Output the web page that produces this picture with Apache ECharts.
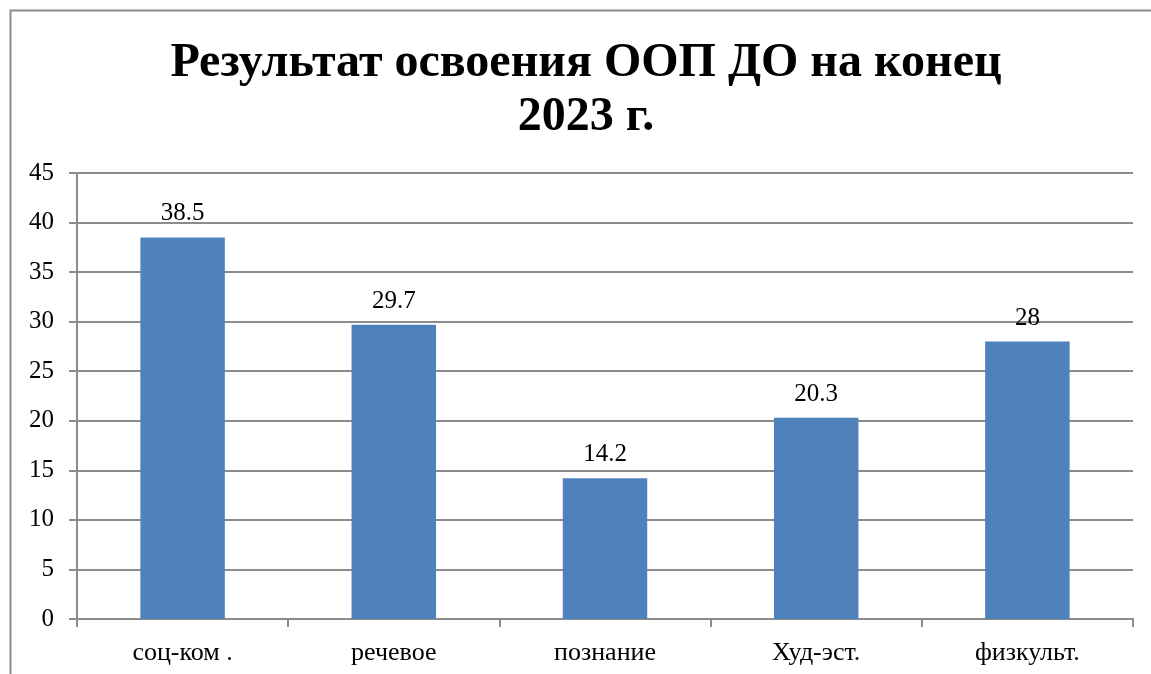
<!DOCTYPE html>
<html>
<head>
<meta charset="utf-8">
<script src="https://cdn.jsdelivr.net/npm/echarts@6/dist/echarts.min.js"></script>
<style>
  html, body { margin: 0; padding: 0; background: #fff; }
  #chart { width: 1151px; height: 674px; }
</style>
</head>
<body>
<div id="chart"></div>
<script>
var categories = ['соц-ком .', 'речевое', 'познание', 'Худ-эст.', 'физкульт.'];
var values = [38.5, 29.7, 14.2, 20.3, 28];
var titleLines = ['Результат освоения ООП ДО на конец', '2023 г.'];

var myChart = echarts.init(document.getElementById('chart'));
var serif = '"Liberation Serif", "DejaVu Serif", serif';

var option = {
    backgroundColor: '#fff',
    animation: false,
    title: {
        text: titleLines.join('\n'),
        left: 586,
        textAlign: 'center',
        top: 37,
        padding: 0,
        textStyle: {
            fontFamily: serif,
            fontWeight: 'bold',
            fontSize: 48,
            lineHeight: 54,
            color: '#000'
        }
    },
    graphic: [{
        type: 'rect',
        shape: { x: 10.5, y: 10.5, width: 1200, height: 700 },
        style: { fill: 'none', stroke: '#8c8c8c', lineWidth: 2 },
        silent: true
    }],
    grid: { left: 77, right: 18, top: 173, bottom: 55 },
    xAxis: {
        type: 'category',
        data: categories,
        axisLine: { lineStyle: { color: '#8c8c8c', width: 2 } },
        axisTick: { show: true, length: 8, lineStyle: { color: '#8c8c8c', width: 2 } },
        axisLabel: { color: '#000', fontFamily: serif, fontSize: 26, margin: 21 }
    },
    yAxis: {
        type: 'value',
        min: 0,
        max: 45,
        interval: 5,
        axisLine: { show: true, lineStyle: { color: '#8c8c8c', width: 2 } },
        axisTick: { show: true, length: 8, lineStyle: { color: '#8c8c8c', width: 2 } },
        axisLabel: { color: '#000', fontFamily: serif, fontSize: 25, margin: 23 },
        splitLine: { lineStyle: { color: '#8c8c8c', width: 2 } }
    },
    series: [{
        type: 'bar',
        data: values,
        barWidth: '40%',
        itemStyle: { color: '#4f81bd' },
        label: {
            show: true,
            position: 'top',
            distance: 11,
            color: '#000',
            fontFamily: serif,
            fontSize: 25
        }
    }]
};

myChart.setOption(option);
</script>
</body>
</html>
